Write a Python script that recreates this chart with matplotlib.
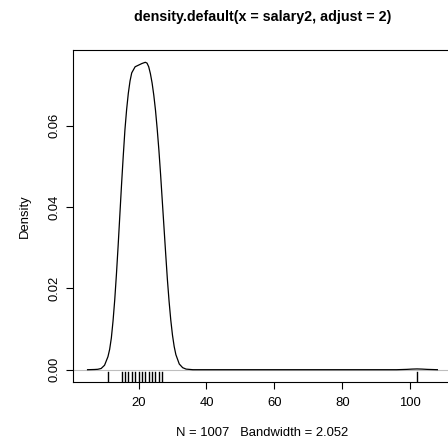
import matplotlib
matplotlib.use("Agg")
import matplotlib.pyplot as plt
import matplotlib.transforms as mtransforms

plt.rcParams['font.family'] = ['Liberation Sans', 'DejaVu Sans']

# Density curve
dens_x = [5, 7, 8, 9, 10, 11, 11.5, 12, 12.5, 13, 13.5, 14, 14.5, 15, 15.5, 16, 16.5,
          17, 17.5, 18, 19, 20, 21, 22, 22.5, 23, 23.5, 24, 24.5, 25, 25.5, 26, 26.5,
          27, 27.5, 28, 28.5, 29, 29.5, 30, 30.5, 31, 32, 33, 34, 36, 96, 99, 100.5,
          102, 103.5, 105, 108]
dens_y = [0.0, 0.00005, 0.0001, 0.0003, 0.0011, 0.0032, 0.0050, 0.0078, 0.0120, 0.0172,
          0.0235, 0.0305, 0.0380, 0.0455, 0.0525, 0.0590, 0.0640, 0.0680, 0.0710, 0.0730,
          0.0745, 0.0749, 0.0753, 0.0756, 0.0754, 0.0745, 0.0728, 0.0705, 0.0675, 0.0638,
          0.0592, 0.0540, 0.0480, 0.0415, 0.0350, 0.0285, 0.0222, 0.0168, 0.0122, 0.0085,
          0.0057, 0.0037, 0.0014, 0.0005, 0.00015, 0.0, 0.0, 0.00008, 0.00015, 0.00019,
          0.00015, 0.00008, 0.0]

# Rug values (distinct observations)
rug_x = [11, 15, 16, 17, 18, 19, 20, 21, 22, 23, 24, 25, 26, 27, 102]

x_ticks = [20, 40, 60, 80, 100]
y_ticks = [0.00, 0.02, 0.04, 0.06]
y_tick_labels = ["0.00", "0.02", "0.04", "0.06"]

title = "density.default(x = salary2, adjust = 2)"
xlab = "N = 1007   Bandwidth = 2.052"
ylab = "Density"

W, H = 448, 444
fig = plt.figure(figsize=(W / 100, H / 100), dpi=100)
L, R, T, B = 73, 452, 50, 382
ax = fig.add_axes([L / W, 1 - B / H, (R - L) / W, (B - T) / H])

ymax = max(dens_y)
ax.set_xlim(0.71, 112.3)
ax.set_ylim(-0.04 * ymax, 1.04 * ymax)

ax.axhline(0, color="#bebebe", lw=0.8, zorder=1)
ax.plot(dens_x, dens_y, color="black", lw=0.9, zorder=3, clip_on=True)

trans = mtransforms.blended_transform_factory(ax.transData, ax.transAxes)
for v in rug_x:
    ax.plot([v, v], [0, 0.03], color="black", lw=1.0, transform=trans, zorder=2)

for s in ax.spines.values():
    s.set_color("black")
    s.set_linewidth(0.8)

ax.set_xticks(x_ticks)
ax.set_xticklabels([str(v) for v in x_ticks])
ax.set_yticks(y_ticks)
ax.set_yticklabels(y_tick_labels, rotation=90, va="center")
ax.tick_params(direction="out", length=5, width=0.8, labelsize=9.4)
ax.tick_params(axis="x", pad=6)
ax.tick_params(axis="y", pad=4)

ax.set_title(title, fontsize=10.3, fontweight="bold", pad=21)
ax.set_xlabel(xlab, fontsize=9.4, labelpad=13)
ax.set_ylabel(ylab, fontsize=9.4, labelpad=13)

fig.savefig("out.png", dpi=100)
